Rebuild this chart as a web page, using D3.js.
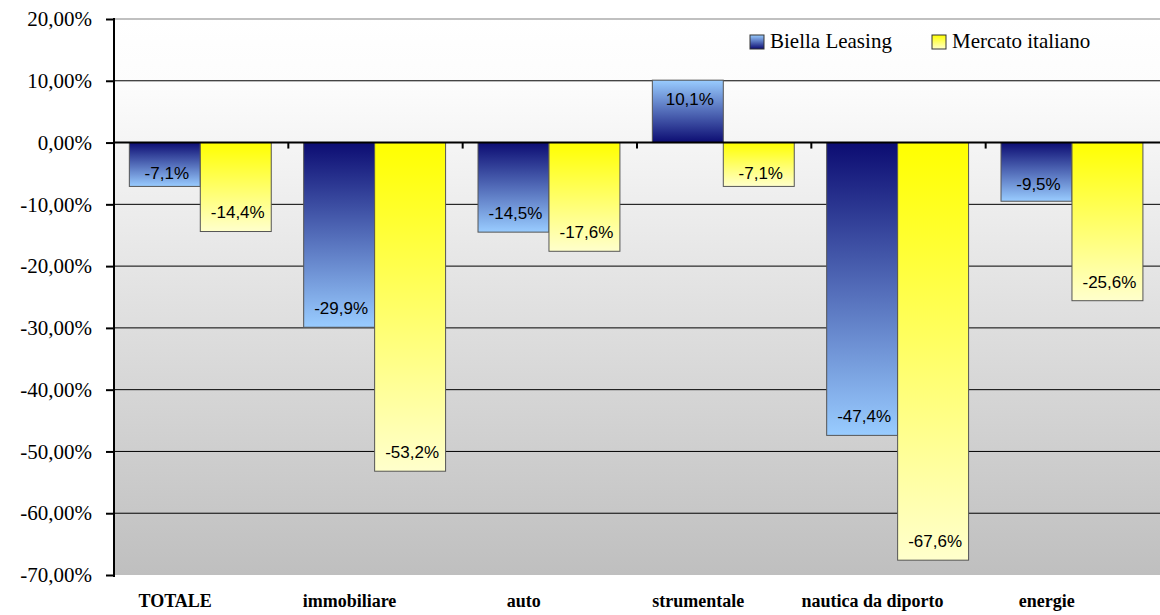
<!DOCTYPE html>
<html>
<head>
<meta charset="utf-8">
<script src="https://cdn.jsdelivr.net/npm/d3@7"></script>
<style>
  body { margin: 0; background: #fff; }
  svg { display: block; }
</style>
</head>
<body>
<svg id="chart" width="1160" height="615"></svg>
<script>
// dati
var categorie = ['TOTALE', 'immobiliare', 'auto', 'strumentale', 'nautica da diporto', 'energie']
var biella = [-7.1, -29.9, -14.5, 10.1, -47.4, -9.5]
var mercato = [-14.4, -53.2, -17.6, -7.1, -67.6, -25.6]
var serie = ['Biella Leasing', 'Mercato italiano']
var yTicks = [20, 10, 0, -10, -20, -30, -40, -50, -60, -70]

var it = d3.formatLocale({ decimal: ',', thousands: '.', grouping: [3], currency: ['', '€'], minus: '-' })
var fmtTick = it.format('.2f')
var fmtLab = it.format('.1f')
var serif = "'Liberation Serif', 'Times New Roman', serif"
var sans = "'Liberation Sans', Arial, sans-serif"

var svg = d3.select('#chart')
var margin = { left: 114, right: 1160, top: 19, bottom: 575 }

var x = d3.scaleBand().domain(categorie).range([margin.left, margin.right])
var xs = d3.scaleBand().domain(serie)
    .range([x.bandwidth() * 0.088, x.bandwidth() * 0.902])
var y = d3.scaleLinear().domain([-70, 20]).range([margin.bottom, margin.top])

var defs = svg.append('defs')
var bg = defs.append('linearGradient').attr('id', 'bg')
    .attr('x1', 0).attr('y1', 0).attr('x2', 0).attr('y2', 1)
bg.append('stop').attr('offset', 0).attr('stop-color', '#ffffff')
bg.append('stop').attr('offset', 0.12).attr('stop-color', '#fcfcfc')
bg.append('stop').attr('offset', 1).attr('stop-color', '#bfbfbf')

function grad(id, c1, c2, up) {
    var g = defs.append('linearGradient').attr('id', id)
        .attr('x1', 0).attr('x2', 0)
        .attr('y1', up ? 1 : 0).attr('y2', up ? 0 : 1)
    g.append('stop').attr('offset', 0).attr('stop-color', c1)
    g.append('stop').attr('offset', 1).attr('stop-color', c2)
}
grad('blueDown', '#0c0c72', '#99ccff', false)
grad('blueUp', '#0c0c72', '#99ccff', true)
grad('yelDown', '#ffff00', '#ffffcc', false)
grad('yelUp', '#ffff00', '#ffffcc', true)

// sfondo area del grafico
svg.append('rect')
    .attr('x', margin.left).attr('y', y(20))
    .attr('width', margin.right - margin.left)
    .attr('height', y(-70) - y(20))
    .attr('fill', 'url(#bg)')
svg.append('line')
    .attr('x1', margin.left).attr('x2', margin.right)
    .attr('y1', y(20)).attr('y2', y(20))
    .attr('stroke', '#c0c0c0').attr('stroke-width', 2)

// griglia
svg.append('g').selectAll('line')
    .data(yTicks.filter(d => d < 20 && d > -70 && d != 0))
    .enter().append('line')
    .attr('x1', margin.left).attr('x2', margin.right)
    .attr('y1', d => y(d)).attr('y2', d => y(d))
    .attr('stroke', '#000').attr('stroke-width', 1)

// barre
var righe = categorie.map((c, i) => ({ cat: c, vals: [biella[i], mercato[i]] }))
var gruppi = svg.append('g').selectAll('g')
    .data(righe).enter().append('g')
    .attr('transform', d => 'translate(' + x(d.cat) + ',0)')

gruppi.selectAll('rect')
    .data(d => d.vals.map((v, j) => ({ s: serie[j], v: v })))
    .enter().append('rect')
    .attr('x', d => xs(d.s))
    .attr('width', xs.bandwidth())
    .attr('y', d => y(Math.max(0, d.v)))
    .attr('height', d => Math.abs(y(d.v) - y(0)))
    .attr('fill', d => 'url(#' + (d.s == serie[0] ? 'blue' : 'yel') + (d.v < 0 ? 'Down' : 'Up') + ')')
    .attr('stroke', '#555').attr('stroke-width', 1)

gruppi.selectAll('text')
    .data(d => d.vals.map((v, j) => ({ s: serie[j], v: v })))
    .enter().append('text')
    .attr('x', d => xs(d.s) + xs.bandwidth() / 2 + 2)
    .attr('y', function (d) {
        var len = Math.abs(y(d.v) - y(0))
        var off = Math.min(19, len * 0.3)
        return d.v < 0 ? y(d.v) - off : y(d.v) + off
    })
    .attr('dy', '0.35em')
    .attr('text-anchor', 'middle')
    .style('font-family', sans)
    .style('font-size', '17px')
    .attr('fill', '#000')
    .text(d => fmtLab(d.v) + '%')

// asse zero e tacche categorie
svg.append('line')
    .attr('x1', margin.left).attr('x2', margin.right)
    .attr('y1', y(0)).attr('y2', y(0))
    .attr('stroke', '#000').attr('stroke-width', 2)
svg.append('g').selectAll('line')
    .data(categorie.slice(1))
    .enter().append('line')
    .attr('x1', d => x(d)).attr('x2', d => x(d))
    .attr('y1', y(0)).attr('y2', y(0) + 6)
    .attr('stroke', '#000').attr('stroke-width', 2)

// asse y
var yAxis = svg.append('g')
    .attr('transform', 'translate(' + margin.left + ',0)')
    .call(d3.axisLeft(y).tickValues(yTicks).tickSize(8).tickPadding(14)
        .tickFormat(d => fmtTick(d) + '%'))
yAxis.select('.domain').remove()
yAxis.selectAll('.tick line').attr('stroke-width', 2)
yAxis.selectAll('text')
    .style('font-family', serif)
    .style('font-size', '21px')
    .attr('fill', '#000')
svg.append('line')
    .attr('x1', margin.left).attr('x2', margin.left)
    .attr('y1', y(20) - 1).attr('y2', y(-70) + 2)
    .attr('stroke', '#000').attr('stroke-width', 2)

// etichette categorie
svg.append('g').selectAll('text')
    .data(categorie).enter().append('text')
    .attr('x', d => x(d) + x.bandwidth() / 2 - 26)
    .attr('y', 607)
    .attr('text-anchor', 'middle')
    .style('font-family', serif)
    .style('font-weight', 'bold')
    .style('font-size', '18px')
    .text(d => d)

// legenda
var leg = svg.append('g').attr('transform', 'translate(750,35)')
var legX = [0, 182]
var legF = ['blueUp', 'yelDown']
serie.forEach(function (s, i) {
    leg.append('rect')
        .attr('x', legX[i]).attr('y', 0)
        .attr('width', 14).attr('height', 14)
        .attr('fill', 'url(#' + legF[i] + ')')
        .attr('stroke', '#333').attr('stroke-width', 1)
    leg.append('text')
        .attr('x', legX[i] + 20).attr('y', 13)
        .style('font-family', serif)
        .style('font-size', '21px')
        .text(s)
})
</script>
</body>
</html>
